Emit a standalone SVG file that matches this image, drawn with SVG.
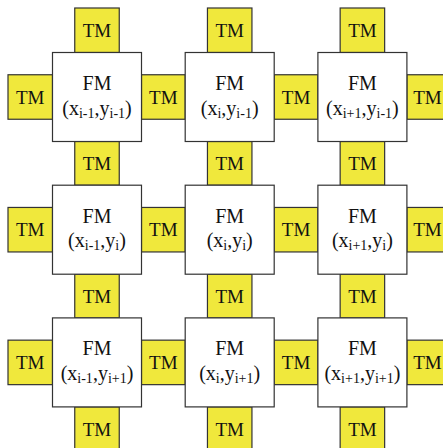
<svg xmlns="http://www.w3.org/2000/svg" width="443" height="448" viewBox="0 0 443 448">
<style>
.fm{fill:#ffffff;stroke:#333333;stroke-width:1.2}
.tm{fill:#f0e83c;stroke:#333333;stroke-width:1.2}
text{font-family:"Liberation Serif","Times New Roman",serif;fill:#111111;text-anchor:middle}
.tl{font-size:19px}
.fl{font-size:20px}
.sub{font-size:14px}
</style>
<rect width="443" height="448" fill="#ffffff"/>
<g id="connectors"></g>
<!-- top TMs -->
<g id="tm-top-1"><rect class="tm" x="74.75" y="8" width="44.5" height="44.5"/><text class="tl" x="97" y="36.8">TM</text></g>
<g id="tm-top-2"><rect class="tm" x="207.45" y="8" width="44.5" height="44.5"/><text class="tl" x="229.7" y="36.8">TM</text></g>
<g id="tm-top-3"><rect class="tm" x="340.15" y="8" width="44.5" height="44.5"/><text class="tl" x="362.4" y="36.8">TM</text></g>
<!-- between rows 1-2 -->
<g id="tm-v12-1"><rect class="tm" x="74.75" y="141.5" width="44.5" height="43.7"/><text class="tl" x="97" y="169.9">TM</text></g>
<g id="tm-v12-2"><rect class="tm" x="207.45" y="141.5" width="44.5" height="43.7"/><text class="tl" x="229.7" y="169.9">TM</text></g>
<g id="tm-v12-3"><rect class="tm" x="340.15" y="141.5" width="44.5" height="43.7"/><text class="tl" x="362.4" y="169.9">TM</text></g>
<!-- between rows 2-3 -->
<g id="tm-v23-1"><rect class="tm" x="74.75" y="274.2" width="44.5" height="43.7"/><text class="tl" x="97" y="302.6">TM</text></g>
<g id="tm-v23-2"><rect class="tm" x="207.45" y="274.2" width="44.5" height="43.7"/><text class="tl" x="229.7" y="302.6">TM</text></g>
<g id="tm-v23-3"><rect class="tm" x="340.15" y="274.2" width="44.5" height="43.7"/><text class="tl" x="362.4" y="302.6">TM</text></g>
<!-- bottom TMs -->
<g id="tm-bot-1"><rect class="tm" x="74.75" y="406.9" width="44.5" height="44.5"/><text class="tl" x="97" y="435.7">TM</text></g>
<g id="tm-bot-2"><rect class="tm" x="207.45" y="406.9" width="44.5" height="44.5"/><text class="tl" x="229.7" y="435.7">TM</text></g>
<g id="tm-bot-3"><rect class="tm" x="340.15" y="406.9" width="44.5" height="44.5"/><text class="tl" x="362.4" y="435.7">TM</text></g>
<!-- row 1 horizontal -->
<g id="tm-r1-left"><rect class="tm" x="8" y="74.75" width="44.5" height="44.5"/><text class="tl" x="30.25" y="103.5">TM</text></g>
<g id="tm-r1-12"><rect class="tm" x="141.5" y="74.75" width="43.7" height="44.5"/><text class="tl" x="163.35" y="103.5">TM</text></g>
<g id="tm-r1-23"><rect class="tm" x="274.2" y="74.75" width="43.7" height="44.5"/><text class="tl" x="296.05" y="103.5">TM</text></g>
<g id="tm-r1-right"><rect class="tm" x="406.9" y="74.75" width="44.5" height="44.5"/><text class="tl" x="427.5" y="103.5">TM</text></g>
<!-- row 2 horizontal -->
<g id="tm-r2-left"><rect class="tm" x="8" y="207.45" width="44.5" height="44.5"/><text class="tl" x="30.25" y="236.2">TM</text></g>
<g id="tm-r2-12"><rect class="tm" x="141.5" y="207.45" width="43.7" height="44.5"/><text class="tl" x="163.35" y="236.2">TM</text></g>
<g id="tm-r2-23"><rect class="tm" x="274.2" y="207.45" width="43.7" height="44.5"/><text class="tl" x="296.05" y="236.2">TM</text></g>
<g id="tm-r2-right"><rect class="tm" x="406.9" y="207.45" width="44.5" height="44.5"/><text class="tl" x="427.5" y="236.2">TM</text></g>
<!-- row 3 horizontal -->
<g id="tm-r3-left"><rect class="tm" x="8" y="340.15" width="44.5" height="44.5"/><text class="tl" x="30.25" y="368.9">TM</text></g>
<g id="tm-r3-12"><rect class="tm" x="141.5" y="340.15" width="43.7" height="44.5"/><text class="tl" x="163.35" y="368.9">TM</text></g>
<g id="tm-r3-23"><rect class="tm" x="274.2" y="340.15" width="43.7" height="44.5"/><text class="tl" x="296.05" y="368.9">TM</text></g>
<g id="tm-r3-right"><rect class="tm" x="406.9" y="340.15" width="44.5" height="44.5"/><text class="tl" x="427.5" y="368.9">TM</text></g>
<!-- FM nodes -->
<g id="fm-1-1"><rect class="fm" x="52.5" y="52.5" width="89" height="89"/><text class="fl" x="97" y="90">FM</text><text class="fl" x="97" y="114.5">(x<tspan class="sub" dy="3">i-1</tspan><tspan dy="-3">,y</tspan><tspan class="sub" dy="3">i-1</tspan><tspan dy="-3">)</tspan></text></g>
<g id="fm-2-1"><rect class="fm" x="185.2" y="52.5" width="89" height="89"/><text class="fl" x="229.7" y="90">FM</text><text class="fl" x="229.7" y="114.5">(x<tspan class="sub" dy="3">i</tspan><tspan dy="-3">,y</tspan><tspan class="sub" dy="3">i-1</tspan><tspan dy="-3">)</tspan></text></g>
<g id="fm-3-1"><rect class="fm" x="317.9" y="52.5" width="89" height="89"/><text class="fl" x="362.4" y="90">FM</text><text class="fl" x="362.4" y="114.5">(x<tspan class="sub" dy="3">i+1</tspan><tspan dy="-3">,y</tspan><tspan class="sub" dy="3">i-1</tspan><tspan dy="-3">)</tspan></text></g>
<g id="fm-1-2"><rect class="fm" x="52.5" y="185.2" width="89" height="89"/><text class="fl" x="97" y="222.7">FM</text><text class="fl" x="97" y="247.2">(x<tspan class="sub" dy="3">i-1</tspan><tspan dy="-3">,y</tspan><tspan class="sub" dy="3">i</tspan><tspan dy="-3">)</tspan></text></g>
<g id="fm-2-2"><rect class="fm" x="185.2" y="185.2" width="89" height="89"/><text class="fl" x="229.7" y="222.7">FM</text><text class="fl" x="229.7" y="247.2">(x<tspan class="sub" dy="3">i</tspan><tspan dy="-3">,y</tspan><tspan class="sub" dy="3">i</tspan><tspan dy="-3">)</tspan></text></g>
<g id="fm-3-2"><rect class="fm" x="317.9" y="185.2" width="89" height="89"/><text class="fl" x="362.4" y="222.7">FM</text><text class="fl" x="362.4" y="247.2">(x<tspan class="sub" dy="3">i+1</tspan><tspan dy="-3">,y</tspan><tspan class="sub" dy="3">i</tspan><tspan dy="-3">)</tspan></text></g>
<g id="fm-1-3"><rect class="fm" x="52.5" y="317.9" width="89" height="89"/><text class="fl" x="97" y="355.4">FM</text><text class="fl" x="97" y="379.9">(x<tspan class="sub" dy="3">i-1</tspan><tspan dy="-3">,y</tspan><tspan class="sub" dy="3">i+1</tspan><tspan dy="-3">)</tspan></text></g>
<g id="fm-2-3"><rect class="fm" x="185.2" y="317.9" width="89" height="89"/><text class="fl" x="229.7" y="355.4">FM</text><text class="fl" x="229.7" y="379.9">(x<tspan class="sub" dy="3">i</tspan><tspan dy="-3">,y</tspan><tspan class="sub" dy="3">i+1</tspan><tspan dy="-3">)</tspan></text></g>
<g id="fm-3-3"><rect class="fm" x="317.9" y="317.9" width="89" height="89"/><text class="fl" x="362.4" y="355.4">FM</text><text class="fl" x="362.4" y="379.9">(x<tspan class="sub" dy="3">i+1</tspan><tspan dy="-3">,y</tspan><tspan class="sub" dy="3">i+1</tspan><tspan dy="-3">)</tspan></text></g>
</svg>
